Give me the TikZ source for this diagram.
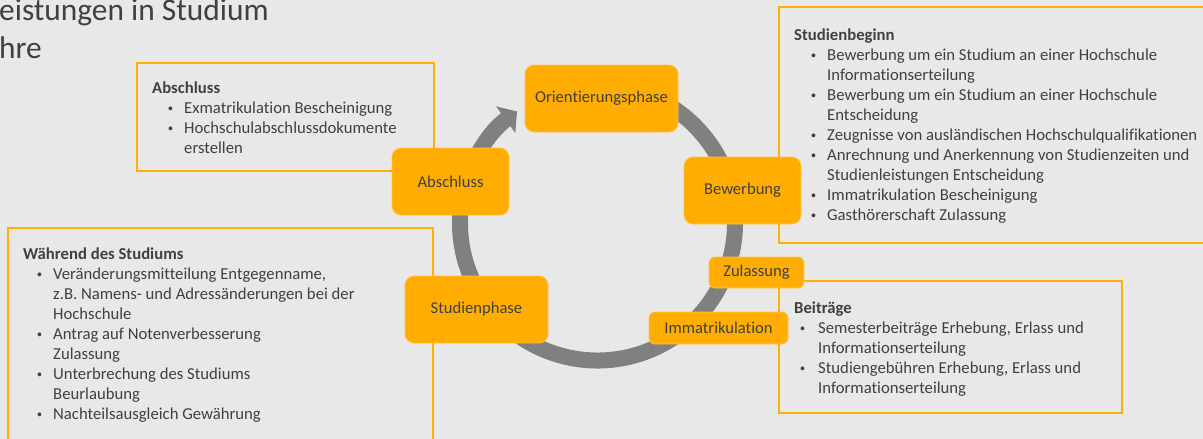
\documentclass[tikz,border=0pt]{standalone}
\usepackage{fontspec}
\setmainfont{Carlito}[Ligatures={NoCommon}]
\newfontfamily\bulfont{Liberation Sans}
\usetikzlibrary{arrows.meta}
\definecolor{bg}{HTML}{E8E8E8}
\definecolor{orng}{HTML}{FFAD00}
\definecolor{orngl}{HTML}{FFC54A}
\definecolor{boxl}{HTML}{FFB000}
\definecolor{txt}{HTML}{404040}
\definecolor{ringc}{HTML}{808080}
\newcommand{\itm}[2]{\hspace*{#1pt}\makebox[#2pt][l]{{\bulfont\fontsize{14}{14}\selectfont\textbullet}}}
\newcommand{\cnt}[1]{\hspace*{#1pt}}
\tikzset{
  phase/.style={fill=orng, draw=orngl, line width=0.8pt, rounded corners=9pt,
    text=txt, font=\fontsize{16.6}{20}\selectfont, inner sep=0pt},
  infobox/.style={draw=boxl, line width=1.8pt, inner sep=0pt},
  listtext/.style={text=txt, align=left, inner sep=0pt, anchor=base west,
    font=\fontsize{16.7}{20}\selectfont},
  titletext/.style={text=txt, inner sep=0pt, anchor=base west,
    font=\fontsize{31.4}{36}\selectfont},
  ringline/.style={draw=ringc, line width=16pt, -{Triangle[length=14pt,width=32pt]}}
}
\begin{document}
\begin{tikzpicture}[x=1pt,y=-1pt]
\useasboundingbox (0,0) rectangle (1203,439);
\fill[bg] (0,0) rectangle (1203,439);

% title
\node[titletext] (t1) at (-1,20) {eistungen in Studium};
\node[titletext] (t2) at (-1,58) {hre};

% ring arrow
\coordinate (c) at (597.5,223);
\draw[ringline] (c) ++(-80:137.5) arc[start angle=-80, end angle=234.2, radius=137.5];

% info boxes
\node[infobox, minimum width=297pt, minimum height=108pt] (abox) at (285.5,117) {};
\node[infobox, minimum width=431pt, minimum height=236pt] (sbox) at (994.5,125) {};
\node[infobox, minimum width=425pt, minimum height=222pt] (wbox) at (220.5,339) {};
\node[infobox, minimum width=343pt, minimum height=132pt] (bbox) at (950.5,347) {};

% texts (anchored at the baseline of the last line)
\node[listtext] (atext) at (152,153) {\textbf{Abschluss}\\
\itm{16}{16}Exmatrikulation Bescheinigung\\
\itm{16}{16}Hochschulabschlussdokumente\\
\cnt{32}erstellen};

\node[listtext] (stext) at (794,220) {\textbf{Studienbeginn}\\
\itm{17}{16}Bewerbung um ein Studium an einer Hochschule\\
\cnt{33}Informationserteilung\\
\itm{17}{16}Bewerbung um ein Studium an einer Hochschule\\
\cnt{33}Entscheidung\\
\itm{17}{16}Zeugnisse von ausländischen Hochschulqualifikationen\\
\itm{17}{16}Anrechnung und Anerkennung von Studienzeiten und\\
\cnt{33}Studienleistungen Entscheidung\\
\itm{17}{16}Immatrikulation Bescheinigung\\
\itm{17}{16}Gasthörerschaft Zulassung};

\node[listtext] (wtext) at (23,419) {\textbf{Während des Studiums}\\
\itm{14}{16}Veränderungsmitteilung Entgegenname,\\
\cnt{30}z.B. Namens- und Adressänderungen bei der\\
\cnt{30}Hochschule\\
\itm{14}{16}Antrag auf Notenverbesserung\\
\cnt{30}Zulassung\\
\itm{14}{16}Unterbrechung des Studiums\\
\cnt{30}Beurlaubung\\
\itm{14}{16}Nachteilsausgleich Gewährung};

\node[listtext] (btext) at (794,393) {\textbf{Beiträge}\\
\itm{6}{18}Semesterbeiträge Erhebung, Erlass und\\
\cnt{24}Informationserteilung\\
\itm{6}{18}Studiengebühren Erhebung, Erlass und\\
\cnt{24}Informationserteilung};

% phase nodes
\node[phase, minimum width=153pt, minimum height=67pt] (orient) at (601.5,98.5) {Orientierungsphase};
\node[phase, minimum width=117pt, minimum height=67pt] (bew) at (742.5,190.5) {Bewerbung};
\node[phase, minimum width=95pt, minimum height=31pt, rounded corners=6pt] (zul) at (756.5,272.5) {Zulassung};
\node[phase, minimum width=139pt, minimum height=32pt, rounded corners=6pt] (imm) at (718.5,328) {Immatrikulation};
\node[phase, minimum width=143pt, minimum height=67pt] (stud) at (476.5,309.5) {Studienphase};
\node[phase, minimum width=117pt, minimum height=67pt] (absch) at (450.5,181.5) {Abschluss};
\end{tikzpicture}
\end{document}
